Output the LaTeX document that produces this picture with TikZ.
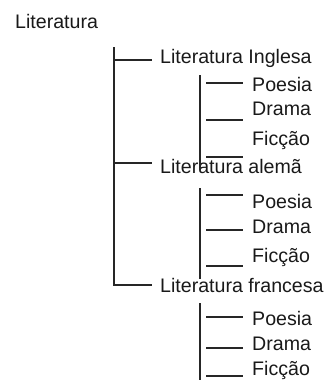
\documentclass[tikz,border=0pt]{standalone}
\usepackage{fontspec}
\setmainfont{Liberation Sans}
\begin{document}
\begin{tikzpicture}[x=1pt,y=-1pt,
  lbl/.style={anchor=base west,inner sep=0pt,font=\fontsize{19.6}{22}\selectfont,text=black!90},
  ln/.style={line width=1.8pt,black!85}]
\useasboundingbox (0,0) rectangle (332,380);
% texts
\node[lbl] (root) at (15,28) {Literatura};
\node[lbl] (ing) at (160,63) {Literatura Inglesa};
\node[lbl] (ip) at (252,91) {Poesia};
\node[lbl] (id) at (252,115) {Drama};
\node[lbl] (if) at (252,145) {Ficção};
\node[lbl] (ale) at (160,173) {Literatura alemã};
\node[lbl] (ap) at (252,208) {Poesia};
\node[lbl] (ad) at (252,233) {Drama};
\node[lbl] (af) at (252,262) {Ficção};
\node[lbl] (fra) at (160,292) {Literatura francesa};
\node[lbl] (fp) at (252,325) {Poesia};
\node[lbl] (fd) at (252,350) {Drama};
\node[lbl] (ff) at (252,375) {Ficção};
% main trunk
\coordinate (t0) at (114,47);
\coordinate (t1) at (114,60);
\coordinate (t2) at (114,163);
\coordinate (t3) at (114,285);
\coordinate (e1) at (152,60);
\coordinate (e2) at (152,163);
\coordinate (e3) at (152,285);
\draw[ln] (t0) -- (t3) -- (e3);
\draw[ln] (t1) -- (e1);
\draw[ln] (t2) -- (e2);
% sub trunks
\coordinate (s1a) at (200,75);
\coordinate (s1b) at (200,170);
\coordinate (s2a) at (200,188);
\coordinate (s2b) at (200,279);
\coordinate (s3a) at (200,303);
\coordinate (s3b) at (200,380);
\draw[ln] (s1a) -- (s1b);
\draw[ln] (s2a) -- (s2b);
\draw[ln] (s3a) -- (s3b);
% sub branches
\foreach \y in {83,120,157,195,230,266,317,348,376}{
  \draw[ln] (206,\y) -- (243,\y);
}
\end{tikzpicture}
\end{document}
